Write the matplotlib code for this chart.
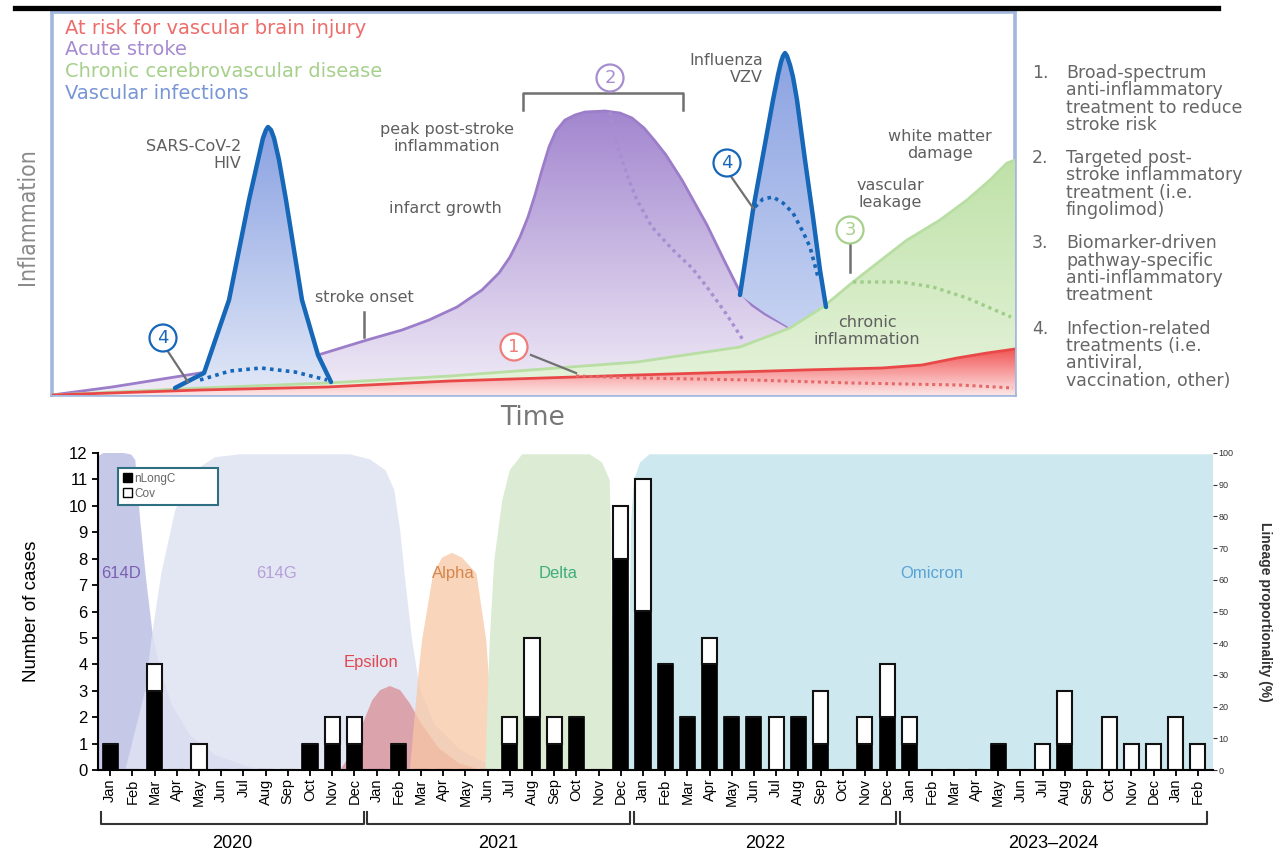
import numpy as np
import matplotlib
matplotlib.use('Agg')
import matplotlib.pyplot as plt
import matplotlib.transforms as mtransforms
from matplotlib.patches import Polygon, Circle, Patch
from matplotlib.colors import LinearSegmentedColormap
from matplotlib.lines import Line2D

W, H = 1279, 855

###############
# Top panel: schematic inflammation curves (time, inflammation) in arbitrary units
risk_t = [0, 148, 275, 398, 585, 751, 830, 870, 905, 935, 963]
risk_v = [0, 5, 8, 14, 20, 25, 27, 30, 37, 42, 46]
risk_dot_t = [524, 588, 700, 800, 908, 961]
risk_dot_v = [19, 17, 15, 12, 10, 7]

chronic_t = [0, 148, 275, 398, 585, 688, 738, 771, 801, 833, 855, 888, 915, 938, 955, 963]
chronic_v = [0, 7, 12, 19, 33, 48, 67, 88, 113, 138, 155, 175, 195, 215, 232, 235]
chronic_dot_t = [801, 849, 881, 915, 959]
chronic_dot_v = [113, 113, 108, 97, 78]

stroke_t = [0, 60, 148, 210, 266, 315, 350, 377, 405, 430, 447, 458, 468, 476, 483, 490, 497, 504,
            513, 523, 533, 553, 568, 580, 592, 603, 614, 630, 655, 672, 688, 700, 713, 738]
stroke_v = [0, 8, 22, 30, 40, 55, 65, 75, 88, 105, 122, 138, 158, 178, 200, 225, 248, 264,
            275, 280, 283, 284, 282, 277, 267, 254, 240, 215, 170, 135, 103, 90, 81, 67]
stroke_dot_t = [558, 560, 565, 570, 578, 585, 600, 621, 640, 655, 675, 691]
stroke_dot_v = [283, 268, 250, 235, 212, 195, 168, 145, 127, 108, 80, 55]

inf1_t = [123, 152, 177, 197, 206, 211, 214, 216, 219, 222, 227, 234, 250, 266, 279]
inf1_v = [7, 22, 95, 195, 235, 257, 265, 268, 265, 257, 235, 195, 95, 40, 13]
inf1_dot_t = [148, 178, 209, 243, 275]
inf1_dot_v = [15, 24, 27, 23, 15]

inf2_t = [688, 701, 711, 721, 726, 729, 731, 733, 735, 738, 741, 745, 753, 761, 768, 774]
inf2_v = [100, 185, 240, 295, 320, 333, 339, 342, 339, 330, 318, 295, 235, 178, 125, 88]
inf2_base_t = [774, 760, 738, 713, 688]
inf2_base_v = [88, 80, 67, 82, 100]
inf2_dot_t = [703, 711, 721, 731, 741, 751, 758, 766]
inf2_dot_v = [188, 196, 198, 192, 182, 163, 148, 118]

legend_labels = ['At risk for vascular brain injury', 'Acute stroke',
                 'Chronic cerebrovascular disease', 'Vascular infections']
legend_colors = ['#ee6c6a', '#a78bd1', '#a6d08c', '#7896d6']

treat_items = [
    ['Broad-spectrum', 'anti-inflammatory', 'treatment to reduce', 'stroke risk'],
    ['Targeted post-', 'stroke inflammatory', 'treatment (i.e.', 'fingolimod)'],
    ['Biomarker-driven', 'pathway-specific', 'anti-inflammatory', 'treatment'],
    ['Infection-related', 'treatments (i.e.', 'antiviral,', 'vaccination, other)'],
]

###############
# Bottom panel: monthly cases and lineage proportions
months = (['Jan', 'Feb', 'Mar', 'Apr', 'May', 'Jun', 'Jul', 'Aug', 'Sep', 'Oct', 'Nov', 'Dec'] * 4
          + ['Jan', 'Feb'])
nlongc = [1, 0, 3, 0, 0, 0, 0, 0, 0, 1, 1, 1,
          0, 1, 0, 0, 0, 0, 1, 2, 1, 2, 0, 8,
          6, 4, 2, 4, 2, 2, 0, 2, 1, 0, 1, 2,
          1, 0, 0, 0, 1, 0, 0, 1, 0, 0, 0, 0, 0, 0]
cov = [0, 0, 1, 0, 1, 0, 0, 0, 0, 0, 1, 1,
       0, 0, 0, 0, 0, 0, 1, 3, 1, 0, 0, 2,
       5, 0, 0, 1, 0, 0, 2, 0, 2, 0, 1, 2,
       1, 0, 0, 0, 0, 0, 1, 2, 0, 2, 1, 1, 2, 1]
year_groups = [('2020', 0, 11), ('2021', 12, 23), ('2022', 24, 35), ('2023\u20132024', 36, 49)]

# lineage proportion outlines (month index, %)
d614_m = [-0.55, -0.55, -0.3, 0.6, 0.95, 1.13, 1.35, 1.62, 1.89, 2.25, 2.79, 3.6, 4.73, 6.3, 8.1]
d614_p = [0, 99, 100, 100, 99.5, 97.8, 78.9, 60, 44.2, 31.5, 20.5, 11, 4.7, 0.9, 0]
g614_m = [0.68, 1.13, 1.58, 1.85, 2.3, 2.93, 3.83, 4.73, 5.86, 10.8, 11.7, 12.4, 12.8, 13.06, 13.29,
          13.6, 13.96, 14.64, 15.77, 17.1, 18.5]
g614_p = [0, 12.6, 25.2, 41, 62, 82, 94.6, 98.7, 99.6, 99.6, 98, 94.6, 88.3, 75.7, 60,
          41, 25.2, 14.2, 6.3, 1.6, 0]
eps_m = [10.36, 10.9, 11.35, 11.8, 12.16, 12.6, 13.06, 13.5, 14.05, 14.8, 15.7, 16.7]
eps_p = [0, 5.7, 14.2, 22, 25.2, 26.5, 25.2, 21, 14.2, 6.9, 2.2, 0]
alpha_m = [13.5, 13.7, 13.9, 14.05, 14.55, 14.95, 15.4, 15.85, 16.5, 16.94, 17.1, 17.3, 17.66]
alpha_p = [0, 15.8, 31.5, 41, 62, 67, 68.5, 67, 62, 41, 25.2, 9.5, 0]
delta_m = [16.9, 17.0, 17.1, 17.3, 17.66, 18.0, 18.56, 21.6, 22.16, 22.5, 22.57, 22.6, 22.65]
delta_p = [0, 22, 41, 66, 85, 94.6, 99.6, 99.6, 97, 91.5, 72.6, 37.9, 0]
omi_m = [23.33, 23.38, 23.47, 23.6, 23.87, 24.3, 49.7, 49.7]
omi_p = [0, 37.9, 78.9, 91.5, 97, 99.6, 99.6, 0]

plt.rcParams['font.family'] = ['Liberation Sans', 'DejaVu Sans']
fig = plt.figure(figsize=(W / 100, H / 100), dpi=100)
fig.patch.set_facecolor('white')

fig.add_artist(Line2D([15 / W, 1218 / W], [1 - 8 / H, 1 - 8 / H], color='black', lw=3.8))


def grad_fill(ax, xs, ys, top, bottom, z):
    poly = Polygon(np.column_stack([xs, ys]), closed=True, fc='none', ec='none')
    ax.add_patch(poly)
    cmap = LinearSegmentedColormap.from_list('g', [bottom, top])
    g = np.linspace(0, 1, 256).reshape(-1, 1)
    im = ax.imshow(g, cmap=cmap, origin='lower', aspect='auto', interpolation='bilinear',
                   extent=[min(xs), max(xs), 0, max(ys)], zorder=z)
    im.set_clip_path(poly)


###############
# top schematic
ax = fig.add_axes([52 / W, 1 - 395 / H, 963 / W, 383 / H])
TF = 'DejaVu Sans'

grad_fill(ax, stroke_t + [738], stroke_v + [0], '#a286cf', '#f1ecf7', 1)
grad_fill(ax, inf1_t, inf1_v, '#8aa2e2', '#e2e8f7', 2)
grad_fill(ax, inf2_t + inf2_base_t, inf2_v + inf2_base_v, '#8ca3e2', '#d3ddf5', 2)
grad_fill(ax, chronic_t + [963], chronic_v + [0], '#bfe2a8', '#e6f3dc', 3)
grad_fill(ax, risk_t + [963, 0], risk_v + [0, 0], '#f25656', '#fde6e6', 4)

ax.plot(stroke_t, stroke_v, color='#9c7dc9', lw=2, zorder=1.5)
ax.plot(chronic_t, chronic_v, color='#b8dea3', lw=2, zorder=3.5)
ax.plot(risk_t, risk_v, color='#e94848', lw=2, zorder=4.5)
ax.plot(inf1_t, inf1_v, color='#1667b7', lw=3.2, zorder=6, solid_capstyle='round')
ax.plot(inf2_t, inf2_v, color='#1667b7', lw=3.2, zorder=6, solid_capstyle='round')

dots = (0, (1, 1.2))
ax.plot(stroke_dot_t, stroke_dot_v, color='#a68ed0', lw=2.4, ls=dots, zorder=5)
ax.plot(chronic_dot_t, chronic_dot_v, color='#9fcd88', lw=2.4, ls=dots, zorder=5)
ax.plot(risk_dot_t, risk_dot_v, color='#e46a6a', lw=2.2, ls=dots, zorder=5)
ax.plot(inf1_dot_t, inf1_dot_v, color='#1667b7', lw=2.6, ls=dots, zorder=6)
ax.plot(inf2_dot_t, inf2_dot_v, color='#1667b7', lw=2.6, ls=dots, zorder=6)

for i, (lab, col) in enumerate(zip(legend_labels, legend_colors)):
    ax.text(13, 367 - i * 21.7, lab, color=col, fontsize=14, family=TF, va='center', zorder=7)

tc = '#5f5f5f'
fs = 11.5
ls_ = 1.1
ax.text(189, 240, 'SARS-CoV-2\nHIV', ha='right', va='center', multialignment='right',
        fontsize=fs, family=TF, color=tc, linespacing=ls_, zorder=7)
ax.text(395, 257, 'peak post-stroke\ninflammation', ha='center', va='center',
        fontsize=fs, family=TF, color=tc, linespacing=ls_, zorder=7)
ax.text(393, 187, 'infarct growth', ha='center', va='center', fontsize=fs, family=TF, color=tc, zorder=7)
ax.text(312, 98, 'stroke onset', ha='center', va='center', fontsize=fs, family=TF, color=tc, zorder=7)
ax.text(711, 326, 'Influenza\nVZV', ha='right', va='center', multialignment='right',
        fontsize=fs, family=TF, color=tc, linespacing=1.2, zorder=7)
ax.text(888, 250, 'white matter\ndamage', ha='center', va='center',
        fontsize=fs, family=TF, color=tc, linespacing=ls_, zorder=7)
ax.text(838, 201, 'vascular\nleakage', ha='center', va='center',
        fontsize=fs, family=TF, color=tc, linespacing=ls_, zorder=7)
ax.text(815, 64, 'chronic\ninflammation', ha='center', va='center',
        fontsize=fs, family=TF, color=tc, linespacing=ls_, zorder=7)

lc = '#707070'
ax.plot([312, 312], [58, 83], color=lc, lw=1.8, zorder=7)
ax.plot([471, 471, 631, 631], [285, 302, 302, 285], color=lc, lw=1.8, zorder=7)
ax.plot([115, 136], [45, 13], color=lc, lw=1.6, zorder=7)
ax.plot([479, 524], [40, 22], color=lc, lw=1.6, zorder=7)
ax.plot([678, 701], [220, 187], color=lc, lw=1.6, zorder=7)
ax.plot([798, 798], [151, 123], color=lc, lw=1.8, zorder=7)

for cx, cy, num, col in [(111, 57, '4', '#1667b7'), (462, 48, '1', '#ef7d7b'),
                         (558, 317, '2', '#a68ed0'), (675, 232, '4', '#1667b7'),
                         (798, 165, '3', '#a6d08c')]:
    ax.add_patch(Circle((cx, cy), 13.5, fc='white', ec=col, lw=1.6, zorder=8))
    ax.text(cx, cy, num, color=col, fontsize=13, family=TF, ha='center', va='center', zorder=9)

ax.set_xlim(0, 963)
ax.set_ylim(0, 383)
ax.set_xticks([])
ax.set_yticks([])
for s in ax.spines.values():
    s.set_color('#a3b8de')
    s.set_linewidth(2.6)

fig.text(27 / W, 1 - 217 / H, 'Inflammation', rotation=90, ha='center', va='center',
         fontsize=16.5, color='#8a8a8a', family='DejaVu Sans', fontstretch='condensed')
fig.text(532 / W, 1 - 418 / H, 'Time', ha='center', va='center', fontsize=19,
         color='#777777', family=TF)

n = 0
for k, lines in enumerate(treat_items):
    for j, line in enumerate(lines):
        y = 73 + n * 17.3 + k * 16
        if j == 0:
            fig.text(1032 / W, 1 - y / H, f'{k + 1}.', fontsize=12.5, family=TF, color='#666666', va='center')
        fig.text(1066 / W, 1 - y / H, line, fontsize=12.5, family=TF, color='#666666', va='center')
        n += 1

###############
# bottom bar chart
axb = fig.add_axes([98 / W, 1 - 770 / H, 1115 / W, 317 / H])
ax2 = axb.twinx()
axb.set_zorder(ax2.get_zorder() + 1)
axb.patch.set_visible(False)

ax2.fill(d614_m, d614_p, color='#b7bbe0', alpha=0.8, lw=0)
ax2.fill(g614_m, g614_p, color='#dfe3f3', alpha=0.85, lw=0)
ax2.fill(eps_m, eps_p, color='#d9878e', alpha=0.7, lw=0)
ax2.fill(alpha_m, alpha_p, color='#f8c8a4', alpha=0.75, lw=0)
ax2.fill(delta_m, delta_p, color='#dcebd4', lw=0)
ax2.fill(omi_m, omi_p, color='#cde8ee', lw=0)

for lab, m, p, col in [('614D', 0.5, 62, '#7a5fb2'), ('614G', 7.5, 62, '#b79fd8'),
                       ('Epsilon', 11.76, 34, '#e04850'), ('Alpha', 15.45, 62, '#d4874c'),
                       ('Delta', 20.2, 62, '#3fae7a'), ('Omicron', 37.0, 62, '#5aa3d6')]:
    ax2.text(m, p, lab, color=col, fontsize=12, ha='center', va='center')

x = np.arange(len(months))
axb.bar(x, nlongc, width=0.68, color='black', edgecolor='black', lw=1.2, label='nLongC')
axb.bar(x, cov, width=0.68, bottom=nlongc, color='white', edgecolor='#111111', lw=1.5, label='Cov')

axb.set_xlim(-0.55, 49.68)
axb.set_ylim(0, 12)
ax2.set_ylim(0, 100)
axb.set_yticks(range(13))
axb.set_xticks(x)
axb.set_xticklabels(months, rotation=90, fontsize=10.5)
axb.tick_params(axis='y', labelsize=12, length=4, width=1.3)
axb.tick_params(axis='x', length=4, width=1.3, pad=2)
for s in ['top', 'right']:
    axb.spines[s].set_visible(False)
for s in ['left', 'bottom']:
    axb.spines[s].set_linewidth(1.5)
for s in ax2.spines.values():
    s.set_visible(False)
ax2.set_yticks(range(0, 101, 10))
ax2.tick_params(axis='y', labelsize=6.5, length=3, width=0.8, colors='#333333', pad=1)

axb.set_ylabel('Number of cases', fontsize=13.5)
axb.yaxis.set_label_coords(-0.052, 0.5)
ax2.set_ylabel('Lineage proportionality (%)', fontsize=10, rotation=270, fontweight='bold', color='#333333')
ax2.yaxis.set_label_coords(1.053, 0.5)

trans = mtransforms.blended_transform_factory(axb.transData, axb.transAxes)
for name, a, b in year_groups:
    x0, x1 = a - 0.42, b + 0.42
    axb.plot([x0, x0, x1, x1], [-0.1325, -0.170, -0.170, -0.1325], transform=trans,
             clip_on=False, color='#333333', lw=1.5)
    axb.text((a + b) / 2, -0.233, name, transform=trans, ha='center', va='center', fontsize=13)

handles = [Patch(fc='black', ec='black'), Patch(fc='white', ec='black')]
leg = axb.legend(handles, ['nLongC', 'Cov'], loc='upper left', bbox_to_anchor=(0.018, 0.952, 0.09, 0.0),
                 mode='expand', fontsize=8.5, fancybox=False, handlelength=0.8, handleheight=0.8,
                 handletextpad=0.2, borderpad=0.4, labelspacing=0.25, borderaxespad=0)
leg.get_frame().set_edgecolor('#2f6f82')
leg.get_frame().set_linewidth(1.5)
leg.get_frame().set_facecolor('white')
leg.get_frame().set_alpha(None)
for t in leg.get_texts():
    t.set_color('#666666')

fig.savefig('out.png', dpi=100)
